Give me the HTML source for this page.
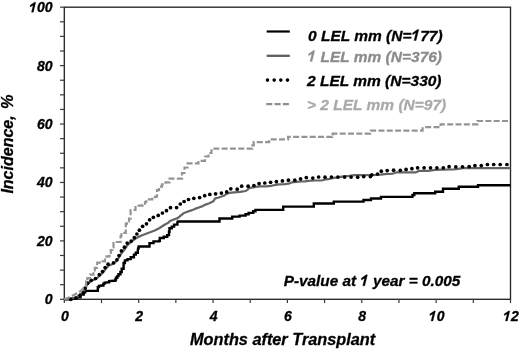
<!DOCTYPE html>
<html><head><meta charset="utf-8"><style>
html,body{margin:0;padding:0;background:#fff;width:520px;height:350px;overflow:hidden}
svg{position:absolute;left:0;top:0;filter:blur(0.35px)}
text{font-family:"Liberation Sans",sans-serif;font-weight:bold;font-style:italic;fill:#000;stroke:#000;stroke-width:0.3px}
.g1{fill:#8c8c8c;stroke:#8c8c8c}
.g2{fill:#aaa;stroke:#aaa}
.t14{font-size:14px}
.t16{font-size:16.3px}
.t15{font-size:15.3px}
.t15b{font-size:15.5px}
.h1{fill-opacity:0;stroke-opacity:0}
</style></head><body>
<svg width="520" height="350" viewBox="0 0 520 350">
<rect x="64.3" y="7.2" width="446.2" height="292.1" fill="none" stroke="#262626" stroke-width="1.35"/>
<line x1="60" y1="299.30" x2="64.3" y2="299.30" stroke="#3a3a3a" stroke-width="1.2"/>
<line x1="60" y1="284.69" x2="64.3" y2="284.69" stroke="#3a3a3a" stroke-width="1.2"/>
<line x1="60" y1="270.09" x2="64.3" y2="270.09" stroke="#3a3a3a" stroke-width="1.2"/>
<line x1="60" y1="255.49" x2="64.3" y2="255.49" stroke="#3a3a3a" stroke-width="1.2"/>
<line x1="60" y1="240.88" x2="64.3" y2="240.88" stroke="#3a3a3a" stroke-width="1.2"/>
<line x1="60" y1="226.28" x2="64.3" y2="226.28" stroke="#3a3a3a" stroke-width="1.2"/>
<line x1="60" y1="211.67" x2="64.3" y2="211.67" stroke="#3a3a3a" stroke-width="1.2"/>
<line x1="60" y1="197.06" x2="64.3" y2="197.06" stroke="#3a3a3a" stroke-width="1.2"/>
<line x1="60" y1="182.46" x2="64.3" y2="182.46" stroke="#3a3a3a" stroke-width="1.2"/>
<line x1="60" y1="167.85" x2="64.3" y2="167.85" stroke="#3a3a3a" stroke-width="1.2"/>
<line x1="60" y1="153.25" x2="64.3" y2="153.25" stroke="#3a3a3a" stroke-width="1.2"/>
<line x1="60" y1="138.64" x2="64.3" y2="138.64" stroke="#3a3a3a" stroke-width="1.2"/>
<line x1="60" y1="124.04" x2="64.3" y2="124.04" stroke="#3a3a3a" stroke-width="1.2"/>
<line x1="60" y1="109.44" x2="64.3" y2="109.44" stroke="#3a3a3a" stroke-width="1.2"/>
<line x1="60" y1="94.83" x2="64.3" y2="94.83" stroke="#3a3a3a" stroke-width="1.2"/>
<line x1="60" y1="80.23" x2="64.3" y2="80.23" stroke="#3a3a3a" stroke-width="1.2"/>
<line x1="60" y1="65.62" x2="64.3" y2="65.62" stroke="#3a3a3a" stroke-width="1.2"/>
<line x1="60" y1="51.01" x2="64.3" y2="51.01" stroke="#3a3a3a" stroke-width="1.2"/>
<line x1="60" y1="36.41" x2="64.3" y2="36.41" stroke="#3a3a3a" stroke-width="1.2"/>
<line x1="60" y1="21.80" x2="64.3" y2="21.80" stroke="#3a3a3a" stroke-width="1.2"/>
<line x1="60" y1="7.20" x2="64.3" y2="7.20" stroke="#3a3a3a" stroke-width="1.2"/>
<line x1="64.30" y1="299.3" x2="64.30" y2="303.1" stroke="#3a3a3a" stroke-width="1.2"/>
<line x1="101.48" y1="299.3" x2="101.48" y2="303.1" stroke="#3a3a3a" stroke-width="1.2"/>
<line x1="138.67" y1="299.3" x2="138.67" y2="303.1" stroke="#3a3a3a" stroke-width="1.2"/>
<line x1="175.85" y1="299.3" x2="175.85" y2="303.1" stroke="#3a3a3a" stroke-width="1.2"/>
<line x1="213.03" y1="299.3" x2="213.03" y2="303.1" stroke="#3a3a3a" stroke-width="1.2"/>
<line x1="250.22" y1="299.3" x2="250.22" y2="303.1" stroke="#3a3a3a" stroke-width="1.2"/>
<line x1="287.40" y1="299.3" x2="287.40" y2="303.1" stroke="#3a3a3a" stroke-width="1.2"/>
<line x1="324.58" y1="299.3" x2="324.58" y2="303.1" stroke="#3a3a3a" stroke-width="1.2"/>
<line x1="361.77" y1="299.3" x2="361.77" y2="303.1" stroke="#3a3a3a" stroke-width="1.2"/>
<line x1="398.95" y1="299.3" x2="398.95" y2="303.1" stroke="#3a3a3a" stroke-width="1.2"/>
<line x1="436.13" y1="299.3" x2="436.13" y2="303.1" stroke="#3a3a3a" stroke-width="1.2"/>
<line x1="473.32" y1="299.3" x2="473.32" y2="303.1" stroke="#3a3a3a" stroke-width="1.2"/>
<line x1="510.50" y1="299.3" x2="510.50" y2="303.1" stroke="#3a3a3a" stroke-width="1.2"/>
<text x="52.6" y="304.30" text-anchor="end" class="t14">0</text>
<text x="52.6" y="245.88" text-anchor="end" class="t14">20</text>
<text x="52.6" y="187.46" text-anchor="end" class="t14">40</text>
<text x="52.6" y="129.04" text-anchor="end" class="t14">60</text>
<text x="52.6" y="70.62" text-anchor="end" class="t14">80</text>
<text x="52.6" y="12.20" text-anchor="end" class="t14"><tspan class="h1">1</tspan>00</text>
<text x="64.80" y="320.9" text-anchor="middle" class="t14">0</text>
<text x="139.17" y="320.9" text-anchor="middle" class="t14">2</text>
<text x="213.53" y="320.9" text-anchor="middle" class="t14">4</text>
<text x="287.90" y="320.9" text-anchor="middle" class="t14">6</text>
<text x="362.27" y="320.9" text-anchor="middle" class="t14">8</text>
<text x="436.63" y="320.9" text-anchor="middle" class="t14"><tspan class="h1">1</tspan>0</text>
<text x="511.00" y="320.9" text-anchor="middle" class="t14"><tspan class="h1">1</tspan>2</text>
<path d="M64.3,299.3 L71.0,299.3 L71.0,298.8 L76.0,298.8 L76.0,297.4 L80.5,297.4 L80.5,294.6 L83.7,294.6 L83.7,292.2 L85.2,292.2 L85.2,290.9 L97.1,290.9 L97.8,290.9 L97.8,287.1 L99.0,287.1 L99.0,285.8 L102.2,285.5 L103.4,285.5 L103.4,283.6 L104.7,283.6 L104.7,282.7 L107.8,282.4 L109.1,282.4 L109.1,281.1 L114.1,280.8 L115.4,280.8 L115.4,279.5 L116.0,279.5 L116.0,277.7 L117.3,277.7 L117.3,276.1 L118.5,276.1 L118.5,274.2 L120.4,274.2 L120.4,272.0 L121.7,272.0 L121.7,268.8 L123.6,268.8 L123.6,266.2 L123.6,263.0 L124.9,263.0 L124.9,260.4 L127.5,260.4 L127.5,259.1 L130.7,259.1 L130.7,257.2 L133.9,257.2 L133.9,254.6 L135.8,254.6 L135.8,252.7 L137.8,252.7 L137.8,250.1 L138.1,248.2 L138.7,248.2 L138.7,246.5 L149.0,246.5 L149.5,246.5 L149.5,243.1 L153.5,243.1 L153.5,241.4 L159.2,241.4 L159.2,240.8 L159.8,240.8 L159.8,238.0 L163.8,238.0 L163.8,236.8 L167.2,236.8 L167.2,235.1 L169.0,235.1 L169.0,231.7 L169.5,231.7 L169.5,228.3 L171.8,228.3 L171.8,226.6 L174.1,226.6 L174.1,224.6 L177.4,224.6 L177.4,222.0 L177.7,221.5 L219.5,221.5 L219.5,218.5 L232.2,218.5 L232.2,216.6 L239.6,216.6 L239.6,215.6 L245.5,215.6 L245.5,214.2 L248.6,214.2 L248.6,212.9 L253.2,212.9 L253.2,211.3 L255.5,211.3 L255.5,209.9 L283.2,209.9 L283.2,206.6 L313.8,206.6 L313.8,203.5 L333.8,203.5 L333.8,201.6 L363.5,201.6 L363.5,200.0 L371.0,200.0 L371.0,198.5 L381.0,198.5 L381.0,196.9 L412.5,196.9 L412.5,195.0 L414.3,195.0 L414.3,193.3 L435.2,193.3 L435.2,191.8 L443.0,191.8 L443.0,188.7 L458.8,188.7 L458.8,186.7 L478.0,186.7 L478.0,185.3 L510.3,185.3" fill="none" stroke="#000" stroke-width="2.4"/>
<path d="M64.3,299.3 L70.0,299.0 L76.0,297.5 L80.0,295.0 L84.0,291.0 L86.0,287.0 L88.0,283.5 L92.0,280.5 L96.0,279.0 L100.0,275.5 L103.0,272.5 L106.0,268.5 L109.0,265.5 L114.0,263.5 L117.0,260.5 L119.5,256.5 L122.0,252.5 L125.0,249.0 L127.3,245.4 L131.8,241.4 L136.4,238.0 L141.0,235.7 L145.5,234.0 L150.1,232.3 L154.7,230.4 L159.2,228.2 L163.8,225.3 L168.4,222.6 L170.0,221.0 L173.8,219.5 L177.7,218.1 L180.6,215.7 L183.5,213.3 L187.3,211.8 L191.2,210.4 L195.0,208.9 L198.8,207.5 L202.7,206.1 L205.6,204.6 L209.4,203.2 L213.3,201.3 L215.2,198.4 L217.9,197.7 L220.8,196.8 L223.7,195.8 L226.5,193.9 L229.4,192.9 L234.2,192.4 L240.0,191.9 L245.8,191.0 L247.7,189.5 L249.1,188.1 L251.5,187.6 L254.4,187.1 L257.3,186.7 L261.2,186.4 L265.8,186.3 L271.5,185.8 L274.4,185.1 L279.2,184.3 L285.0,184.2 L289.8,183.4 L291.7,182.4 L296.5,181.9 L301.3,181.5 L305.0,181.4 L307.9,180.8 L314.6,180.5 L322.3,180.3 L326.2,179.3 L330.0,178.8 L333.8,177.9 L337.7,177.4 L343.5,176.4 L349.2,175.9 L355.0,175.1 L375.0,175.0 L380.4,174.6 L387.3,173.9 L390.0,174.0 L393.8,173.3 L396.7,172.3 L416.0,172.3 L418.8,170.9 L428.5,170.9 L431.3,170.4 L435.2,169.9 L441.4,169.7 L450.0,169.5 L453.1,169.5 L458.5,168.8 L462.5,168.2 L510.3,168.2" fill="none" stroke="#646464" stroke-width="2.2" stroke-linejoin="round"/>
<g fill="#000" transform="translate(0,0.4)"><circle cx="70.9" cy="298.9" r="1.85"/><circle cx="75.9" cy="297.8" r="1.85"/><circle cx="80.1" cy="294.9" r="1.85"/><circle cx="83.4" cy="292.4" r="1.85"/><circle cx="85.1" cy="287.8" r="1.85"/><circle cx="87.6" cy="282.8" r="1.85"/><circle cx="91.2" cy="279.9" r="1.85"/><circle cx="95.5" cy="278.1" r="1.85"/><circle cx="99.3" cy="274.3" r="1.85"/><circle cx="102.5" cy="271.1" r="1.85"/><circle cx="105.1" cy="267.2" r="1.85"/><circle cx="108.1" cy="263.8" r="1.85"/><circle cx="113.5" cy="262.4" r="1.85"/><circle cx="116.9" cy="259.4" r="1.85"/><circle cx="119" cy="255.2" r="1.85"/><circle cx="121.4" cy="250.5" r="1.85"/><circle cx="124.4" cy="246.8" r="1.85"/><circle cx="127.2" cy="242.7" r="1.85"/><circle cx="131.2" cy="240.7" r="1.85"/><circle cx="134.3" cy="237.3" r="1.85"/><circle cx="136.9" cy="233.6" r="1.85"/><circle cx="139.4" cy="229.8" r="1.85"/><circle cx="142.6" cy="225.9" r="1.85"/><circle cx="146.5" cy="223.4" r="1.85"/><circle cx="149.6" cy="219.4" r="1.85"/><circle cx="153.4" cy="216.9" r="1.85"/><circle cx="158.2" cy="215" r="1.85"/><circle cx="162.4" cy="212.6" r="1.85"/><circle cx="166.5" cy="210.3" r="1.85"/><circle cx="170.5" cy="207.3" r="1.85"/><circle cx="176.6" cy="207.2" r="1.85"/><circle cx="180.3" cy="203.6" r="1.85"/><circle cx="184.1" cy="201.1" r="1.85"/><circle cx="188.5" cy="199.1" r="1.85"/><circle cx="193.8" cy="197.9" r="1.85"/><circle cx="199.6" cy="197.2" r="1.85"/><circle cx="204.7" cy="195.3" r="1.85"/><circle cx="209.8" cy="194" r="1.85"/><circle cx="215.6" cy="193.4" r="1.85"/><circle cx="221.4" cy="192.7" r="1.85"/><circle cx="226.7" cy="191.5" r="1.85"/><circle cx="230.8" cy="188.4" r="1.85"/><circle cx="237.2" cy="188.8" r="1.85"/><circle cx="241.7" cy="185.8" r="1.85"/><circle cx="248.1" cy="185.8" r="1.85"/><circle cx="253.9" cy="185.1" r="1.85"/><circle cx="259.1" cy="183.2" r="1.85"/><circle cx="264.8" cy="182.6" r="1.85"/><circle cx="270.6" cy="181.9" r="1.85"/><circle cx="276.4" cy="181.3" r="1.85"/><circle cx="282.4" cy="180.5" r="1.85"/><circle cx="288.4" cy="179.8" r="1.85"/><circle cx="294.8" cy="179.8" r="1.85"/><circle cx="300.6" cy="178.5" r="1.85"/><circle cx="306.3" cy="177.2" r="1.85"/><circle cx="312.8" cy="177.7" r="1.85"/><circle cx="318.6" cy="176.6" r="1.85"/><circle cx="325" cy="176.8" r="1.85"/><circle cx="331.4" cy="176.6" r="1.85"/><circle cx="337.9" cy="176.7" r="1.85"/><circle cx="344.6" cy="176.7" r="1.85"/><circle cx="351.1" cy="176.7" r="1.85"/><circle cx="357.7" cy="176.8" r="1.85"/><circle cx="363.7" cy="176.2" r="1.85"/><circle cx="370.4" cy="176.2" r="1.85"/><circle cx="371.8" cy="174.5" r="1.85"/><circle cx="377.5" cy="173.6" r="1.85"/><circle cx="381.3" cy="170.8" r="1.85"/><circle cx="387.2" cy="170.2" r="1.85"/><circle cx="393.6" cy="169.8" r="1.85"/><circle cx="400.3" cy="169.9" r="1.85"/><circle cx="406.1" cy="169" r="1.85"/><circle cx="411.9" cy="168.3" r="1.85"/><circle cx="417.6" cy="167.4" r="1.85"/><circle cx="424.1" cy="167.4" r="1.85"/><circle cx="430.5" cy="167.4" r="1.85"/><circle cx="436.9" cy="167.4" r="1.85"/><circle cx="443.3" cy="167.4" r="1.85"/><circle cx="449.1" cy="166.3" r="1.85"/><circle cx="455.8" cy="166.4" r="1.85"/><circle cx="462.5" cy="166.4" r="1.85"/><circle cx="469.2" cy="166.2" r="1.85"/><circle cx="474.9" cy="165.2" r="1.85"/><circle cx="481.3" cy="165.2" r="1.85"/><circle cx="487.4" cy="164.1" r="1.85"/><circle cx="493.7" cy="164.1" r="1.85"/><circle cx="500.2" cy="164.1" r="1.85"/><circle cx="506.9" cy="164.1" r="1.85"/></g>
<path d="M64.3,299.3 L68.8,297.4 L73.2,295.3 L78.6,292.5 L82.3,289.6 L84.6,286.0 L86.1,286.0 L86.1,281.7 L87.3,281.7 L87.3,278.1 L90.0,278.1 L90.0,274.6 L93.5,274.6 L93.5,270.4 L94.8,270.4 L94.8,267.9 L96.9,267.9 L96.9,266.2 L97.3,262.6 L102.5,262.6 L102.5,261.3 L105.0,261.3 L105.0,258.4 L106.5,258.4 L106.5,256.4 L109.5,256.4 L109.5,253.0 L110.8,253.0 L110.8,250.0 L112.3,250.0 L112.3,247.5 L113.5,247.5 L113.5,242.0 L120.6,242.0 L120.6,236.0 L121.4,236.0 L121.4,232.9 L125.8,232.9 L125.8,223.6 L127.0,223.6 L127.0,221.5 L129.0,221.5 L129.0,218.6 L130.6,218.6 L130.6,210.0 L135.5,210.0 L135.5,205.7 L142.5,205.7 L142.5,205.0 L145.0,205.0 L145.0,202.0 L146.3,202.0 L146.3,199.4 L152.3,199.4 L152.3,197.1 L155.3,197.1 L155.3,196.6 L157.0,196.6 L157.0,190.2 L159.0,190.2 L159.0,186.6 L162.0,186.6 L162.0,184.3 L165.5,184.3 L165.5,182.4 L169.5,182.4 L169.5,178.6 L182.0,178.6 L182.0,173.0 L184.5,173.0 L184.5,167.5 L187.6,167.5 L187.6,163.4 L198.5,163.4 L198.5,162.0 L200.5,162.0 L200.5,160.8 L205.0,160.8 L205.0,156.5 L208.5,156.5 L208.5,153.0 L211.5,153.0 L211.5,148.7 L249.8,148.6 L252.4,148.6 L252.4,148.0 L252.4,145.4 L253.7,145.4 L253.7,142.2 L266.6,142.2 L269.1,142.2 L269.1,139.6 L270.1,139.3 L286.2,139.3 L288.1,139.3 L288.1,136.8 L330.9,136.8 L332.2,136.8 L332.2,134.3 L333.0,134.3 L333.0,133.6 L368.2,133.6 L370.1,133.6 L370.1,131.1 L370.5,130.6 L420.6,130.6 L422.6,130.6 L422.6,128.1 L423.0,127.2 L439.8,127.2 L440.6,127.2 L440.6,124.3 L475.8,124.3 L477.4,124.3 L477.4,121.0 L510.3,121.0" fill="none" stroke="#949494" stroke-width="2.2" stroke-dasharray="6 2.3"/>
<text class="t16" style="font-size:16px" transform="translate(13.0,193.6) rotate(-90)" text-anchor="start">Incidence,</text>
<text class="t16" transform="translate(13.0,94.6) rotate(-90)" text-anchor="end">%</text>
<text class="t16" x="282.6" y="344.7" text-anchor="middle">Months after Transplant</text>
<text class="t15" x="372" y="285.8" text-anchor="middle">P-value at <tspan class="h1">1</tspan> year = 0.005</text>
<line x1="266.7" y1="31.5" x2="289.8" y2="31.5" stroke="#000" stroke-width="2.2"/>
<line x1="266.7" y1="55.8" x2="289.8" y2="55.8" stroke="#5e5e5e" stroke-width="2.3"/>
<line x1="267.5" y1="80.1" x2="290" y2="80.1" stroke="#000" stroke-width="3.6" stroke-dasharray="0 6.67" stroke-linecap="round"/>
<line x1="266.3" y1="104.1" x2="290" y2="104.1" stroke="#8e8e8e" stroke-width="2.3" stroke-dasharray="6 2.3"/>
<text class="t15b" x="308" y="40.6">0 LEL mm (N=<tspan class="h1">1</tspan>77)</text>
<text class="t15b g1" x="307.5" y="61.6"><tspan class="h1">1</tspan> LEL mm (N=376)</text>
<text class="t15b" x="307" y="85.8">2 LEL mm (N=330)</text>
<text class="t15b g2" x="307" y="109.9">&gt; 2 LEL mm (N=97)</text>
<path transform="translate(29.22,12.20) scale(14)" d="M0.160,0.000 L0.295,0.000 L0.468,-0.716 L0.385,-0.716 L0.065,-0.490 L0.080,-0.380 L0.283,-0.500 Z" fill="rgb(0, 0, 0)" stroke="rgb(0, 0, 0)" stroke-width="0.0214" stroke-linejoin="round"/>
<path transform="translate(428.83,320.90) scale(14)" d="M0.160,0.000 L0.295,0.000 L0.468,-0.716 L0.385,-0.716 L0.065,-0.490 L0.080,-0.380 L0.283,-0.500 Z" fill="rgb(0, 0, 0)" stroke="rgb(0, 0, 0)" stroke-width="0.0214" stroke-linejoin="round"/>
<path transform="translate(503.20,320.90) scale(14)" d="M0.160,0.000 L0.295,0.000 L0.468,-0.716 L0.385,-0.716 L0.065,-0.490 L0.080,-0.380 L0.283,-0.500 Z" fill="rgb(0, 0, 0)" stroke="rgb(0, 0, 0)" stroke-width="0.0214" stroke-linejoin="round"/>
<path transform="translate(360.27,285.80) scale(15.3)" d="M0.160,0.000 L0.295,0.000 L0.468,-0.716 L0.385,-0.716 L0.065,-0.490 L0.080,-0.380 L0.283,-0.500 Z" fill="rgb(0, 0, 0)" stroke="rgb(0, 0, 0)" stroke-width="0.0196" stroke-linejoin="round"/>
<path transform="translate(411.52,40.60) scale(15.5)" d="M0.160,0.000 L0.295,0.000 L0.468,-0.716 L0.385,-0.716 L0.065,-0.490 L0.080,-0.380 L0.283,-0.500 Z" fill="rgb(0, 0, 0)" stroke="rgb(0, 0, 0)" stroke-width="0.0194" stroke-linejoin="round"/>
<path transform="translate(307.50,61.60) scale(15.5)" d="M0.160,0.000 L0.295,0.000 L0.468,-0.716 L0.385,-0.716 L0.065,-0.490 L0.080,-0.380 L0.283,-0.500 Z" fill="rgb(140, 140, 140)" stroke="rgb(140, 140, 140)" stroke-width="0.0194" stroke-linejoin="round"/>
</svg>
</body></html>
